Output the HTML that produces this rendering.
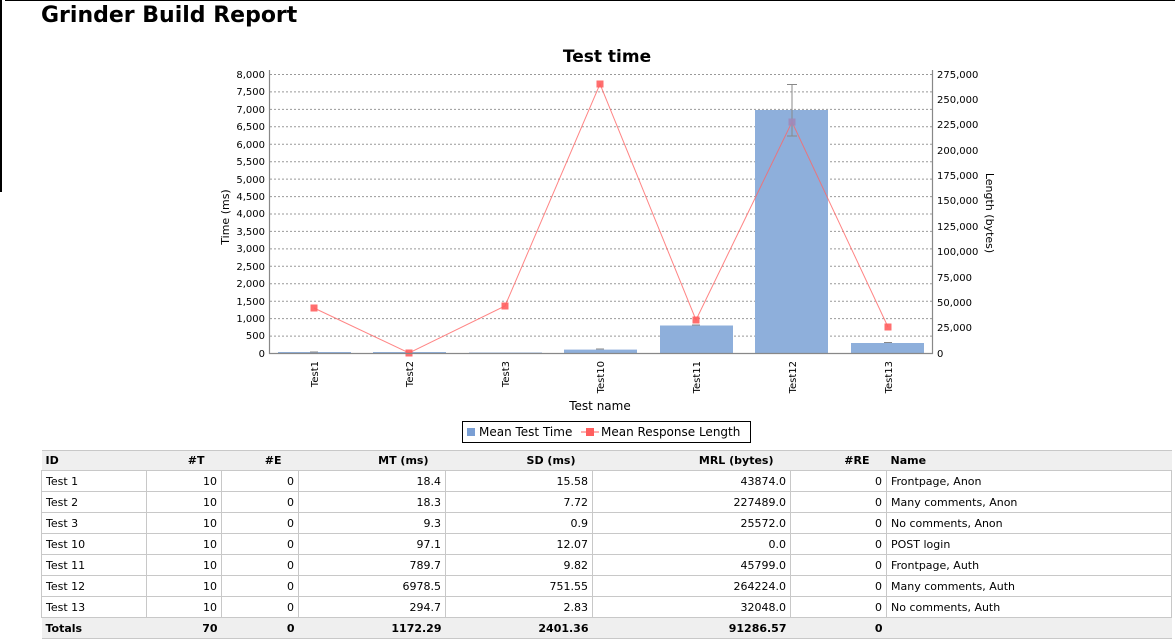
<!DOCTYPE html>
<html><head><meta charset="utf-8"><style>
body{margin:0;width:1175px;height:644px;background:#fff;overflow:hidden;position:relative;font-family:"DejaVu Sans",sans-serif}
.tb{position:absolute;left:5px;top:0;width:1170px;height:1px;background:#000}
.lb{position:absolute;left:0;top:0;width:2px;height:192px;background:#000}
h1{position:absolute;left:41px;top:3px;margin:0;font:bold 22px "DejaVu Sans",sans-serif;color:#000}
svg{position:absolute;left:0;top:0}
table{position:absolute;left:41px;top:450px;width:1131px;border-collapse:collapse;font:11px "DejaVu Sans",sans-serif;table-layout:fixed}
td,th{border:1px solid #c8c8c8;height:20px;padding:0 4px;text-align:right;white-space:nowrap}
th{background:#efefef;font-weight:bold;height:19px;padding-right:17px}
tr.t td{background:#efefef;font-weight:bold}
td:first-child,th:first-child,td:last-child,th:last-child{text-align:left}
tr.t td{border-left:none;border-right:none}
th{border-left:none;border-right:none}
</style></head><body>
<div class="tb"></div><div class="lb"></div>
<h1>Grinder Build Report</h1>
<svg width="1175" height="644" font-family="DejaVu Sans, sans-serif" font-size="10">
<text x="607" y="62" text-anchor="middle" font-size="17" font-weight="bold">Test time</text>
<g stroke="#999" stroke-dasharray="2,2" stroke-width="1">
<line x1="270" x2="932" y1="74.5" y2="74.5"/><line x1="270" x2="932" y1="91.9" y2="91.9"/><line x1="270" x2="932" y1="109.4" y2="109.4"/><line x1="270" x2="932" y1="126.8" y2="126.8"/><line x1="270" x2="932" y1="144.3" y2="144.3"/><line x1="270" x2="932" y1="161.7" y2="161.7"/><line x1="270" x2="932" y1="179.1" y2="179.1"/><line x1="270" x2="932" y1="196.6" y2="196.6"/><line x1="270" x2="932" y1="214" y2="214"/><line x1="270" x2="932" y1="231.4" y2="231.4"/><line x1="270" x2="932" y1="248.9" y2="248.9"/><line x1="270" x2="932" y1="266.3" y2="266.3"/><line x1="270" x2="932" y1="283.8" y2="283.8"/><line x1="270" x2="932" y1="301.2" y2="301.2"/><line x1="270" x2="932" y1="318.6" y2="318.6"/><line x1="270" x2="932" y1="336.1" y2="336.1"/>
</g>
<g fill="#8eafdb">
<rect x="278" y="352" width="73" height="1.5"/><rect x="373" y="352" width="73" height="1.5"/><rect x="469" y="352.5" width="73" height="1"/>
<rect x="564" y="349.6" width="73" height="3.9"/><rect x="660" y="325.5" width="73" height="28"/><rect x="755" y="110" width="73" height="243.5"/><rect x="851" y="343" width="73" height="10.5"/>
</g>
<g stroke="#888" stroke-width="1">
<line x1="792" x2="792" y1="84" y2="136"/><line x1="787" x2="797" y1="84.5" y2="84.5"/><line x1="787" x2="797" y1="136" y2="136"/>
<line x1="310" x2="318" y1="352" y2="352"/><line x1="596" x2="604" y1="349" y2="349"/><line x1="692" x2="700" y1="325" y2="325"/><line x1="884" x2="892" y1="342.5" y2="342.5"/>
</g>
<polyline fill="none" stroke="#ff6666" stroke-opacity="0.8" points="314,308 409,353 505,306 600,84 696,320 792,122 888,327"/>
<g fill="#ff5e5e" fill-opacity="0.9">
<rect x="310.5" y="304.5" width="7" height="7"/><rect x="405.5" y="349.5" width="7" height="7"/><rect x="501.5" y="302.5" width="7" height="7"/><rect x="596.5" y="80.5" width="7" height="7"/><rect x="692.5" y="316.5" width="7" height="7"/><rect x="788.5" y="118.5" width="7" height="7" fill="#a08ab8"/><rect x="884.5" y="323.5" width="7" height="7"/>
</g>
<g stroke="#888" stroke-width="1.2"><line x1="269.5" x2="269.5" y1="70" y2="354"/><line x1="932.5" x2="932.5" y1="70" y2="354"/><line x1="269" x2="933" y1="353.5" y2="353.5"/></g>
<g text-anchor="end">
<text x="265" y="78">8,000</text><text x="265" y="95">7,500</text><text x="265" y="113">7,000</text><text x="265" y="130">6,500</text><text x="265" y="148">6,000</text><text x="265" y="165">5,500</text><text x="265" y="183">5,000</text><text x="265" y="200">4,500</text><text x="265" y="217">4,000</text><text x="265" y="235">3,500</text><text x="265" y="252">3,000</text><text x="265" y="270">2,500</text><text x="265" y="287">2,000</text><text x="265" y="305">1,500</text><text x="265" y="322">1,000</text><text x="265" y="339">500</text><text x="265" y="357">0</text>
</g>
<g>
<text x="937" y="78">275,000</text><text x="937" y="103">250,000</text><text x="937" y="128">225,000</text><text x="937" y="154">200,000</text><text x="937" y="179">175,000</text><text x="937" y="204">150,000</text><text x="937" y="230">125,000</text><text x="937" y="255">100,000</text><text x="937" y="281">75,000</text><text x="937" y="306">50,000</text><text x="937" y="331">25,000</text><text x="937" y="357">0</text>
</g>
<text transform="translate(229,217) rotate(-90)" text-anchor="middle" font-size="11">Time (ms)</text>
<text transform="translate(986,213) rotate(90)" text-anchor="middle" font-size="11">Length (bytes)</text>
<g text-anchor="end">
<text transform="translate(318,361) rotate(-90)">Test1</text><text transform="translate(413,361) rotate(-90)">Test2</text><text transform="translate(509,361) rotate(-90)">Test3</text><text transform="translate(604,361) rotate(-90)">Test10</text><text transform="translate(700,361) rotate(-90)">Test11</text><text transform="translate(796,361) rotate(-90)">Test12</text><text transform="translate(892,361) rotate(-90)">Test13</text>
</g>
<text x="600" y="410" text-anchor="middle" font-size="12">Test name</text>
<rect x="462.5" y="421.5" width="288" height="21" fill="none" stroke="#000"/>
<rect x="467" y="428" width="8" height="8" fill="#7a9fd4"/>
<text x="479" y="436" font-size="12">Mean Test Time</text>
<line x1="581" x2="599" y1="432" y2="432" stroke="#ff5e5e"/><rect x="586" y="428" width="8" height="8" fill="#ff5e5e"/>
<text x="601" y="436" font-size="12">Mean Response Length</text>
</svg>
<table>
<colgroup><col style="width:105px"><col style="width:75px"><col style="width:77px"><col style="width:147px"><col style="width:147px"><col style="width:198px"><col style="width:96px"><col></colgroup>
<tr><th>ID</th><th>#T</th><th>#E</th><th>MT (ms)</th><th>SD (ms)</th><th>MRL (bytes)</th><th>#RE</th><th>Name</th></tr>
<tr><td>Test 1</td><td>10</td><td>0</td><td>18.4</td><td>15.58</td><td>43874.0</td><td>0</td><td>Frontpage, Anon</td></tr>
<tr><td>Test 2</td><td>10</td><td>0</td><td>18.3</td><td>7.72</td><td>227489.0</td><td>0</td><td>Many comments, Anon</td></tr>
<tr><td>Test 3</td><td>10</td><td>0</td><td>9.3</td><td>0.9</td><td>25572.0</td><td>0</td><td>No comments, Anon</td></tr>
<tr><td>Test 10</td><td>10</td><td>0</td><td>97.1</td><td>12.07</td><td>0.0</td><td>0</td><td>POST login</td></tr>
<tr><td>Test 11</td><td>10</td><td>0</td><td>789.7</td><td>9.82</td><td>45799.0</td><td>0</td><td>Frontpage, Auth</td></tr>
<tr><td>Test 12</td><td>10</td><td>0</td><td>6978.5</td><td>751.55</td><td>264224.0</td><td>0</td><td>Many comments, Auth</td></tr>
<tr><td>Test 13</td><td>10</td><td>0</td><td>294.7</td><td>2.83</td><td>32048.0</td><td>0</td><td>No comments, Auth</td></tr>
<tr class="t"><td>Totals</td><td>70</td><td>0</td><td>1172.29</td><td>2401.36</td><td>91286.57</td><td>0</td><td></td></tr>
</table>
</body></html>
